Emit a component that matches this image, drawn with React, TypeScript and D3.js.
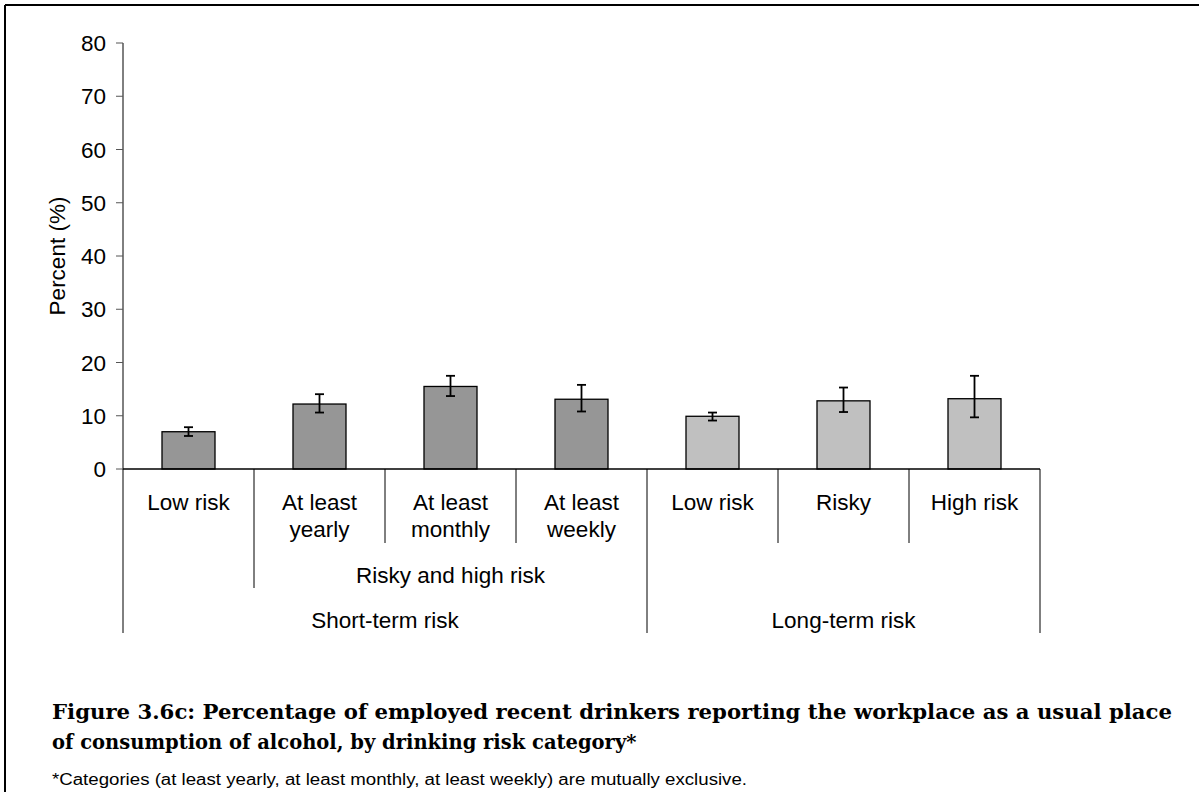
import React from "react";
import * as d3 from "d3";

const categories = ["Low risk", "At least\nyearly", "At least\nmonthly", "At least\nweekly", "Low risk", "Risky", "High risk"];
const groupOf = ["short", "short", "short", "short", "long", "long", "long"];
const values = [7.0, 12.2, 15.5, 13.1, 9.9, 12.8, 13.2];
const errLow = [6.2, 10.6, 13.7, 10.8, 9.1, 10.7, 9.7];
const errHigh = [7.85, 14.05, 17.5, 15.8, 10.6, 15.3, 17.5];
const yTicks = [0, 10, 20, 30, 40, 50, 60, 70, 80];
const subGroups = [{ label: "Risky and high risk", from: 1, to: 3 }];
const topGroups = [
  { label: "Short-term risk", from: 0, to: 3 },
  { label: "Long-term risk", from: 4, to: 6 },
];
const titleLines = [
  "Figure 3.6c: Percentage of employed recent drinkers reporting the workplace as a usual place",
  "of consumption of alcohol, by drinking risk category*",
];
const footnote = "*Categories (at least yearly, at least monthly, at least weekly) are mutually exclusive.";

const W = 1199;
const H = 792;
const left = 123;
const right = 1040;
const top = 43;
const bottom = 469;
const sans = "Arial, 'Liberation Sans', sans-serif";
const serif = "'Palatino Linotype', 'DejaVu Serif', serif";
const fs = 22.5;

export default function App() {
  const x = d3.scaleBand<number>().domain(d3.range(categories.length)).range([left, right]).padding(0);
  const y = d3.scaleLinear().domain([0, 80]).range([bottom, top]);
  const bw = x.bandwidth();
  const barW = 53;
  const fill = (i: number) => (groupOf[i] === "short" ? "#969696" : "#c0c0c0");

  const boundaryEnd = (k: number) => {
    if (k === 0 || k === categories.length || k === 4) return 633;
    if (k === 1) return 588;
    return 543;
  };
  const bx = (k: number) => (k === categories.length ? right : (x(k) as number));

  return (
    <svg width={W} height={H} style={{ position: "absolute", left: 0, top: 0, background: "#fff" }}>
      <rect x={0} y={0} width={W} height={H} fill="#fff" />
      <line x1={5} y1={5} x2={W} y2={5} stroke="#000" strokeWidth={2} />
      <line x1={5} y1={5} x2={5} y2={H} stroke="#000" strokeWidth={2} />

      <line x1={left} y1={top} x2={left} y2={bottom} stroke="#000" strokeWidth={1} />
      {yTicks.map((t) => (
        <g key={t}>
          <line x1={left - 7} x2={left} y1={y(t)} y2={y(t)} stroke="#555" strokeWidth={1} />
          <text x={106} y={y(t)} dy="0.36em" textAnchor="end" fontFamily={sans} fontSize={fs} fill="#000">
            {t}
          </text>
        </g>
      ))}
      <text
        transform={`translate(65,${(top + bottom) / 2}) rotate(-90)`}
        textAnchor="middle"
        fontFamily={sans}
        fontSize={fs}
        fill="#000"
      >
        Percent (%)
      </text>

      {values.map((v, i) => {
        const cx = (x(i) as number) + bw / 2;
        return (
          <g key={i}>
            <rect x={cx - barW / 2} y={y(v)} width={barW} height={y(0) - y(v)} fill={fill(i)} stroke="#000" strokeWidth={1.3} />
            <line x1={cx} x2={cx} y1={y(errLow[i])} y2={y(errHigh[i])} stroke="#000" strokeWidth={1.8} />
            <line x1={cx - 4.5} x2={cx + 4.5} y1={y(errLow[i])} y2={y(errLow[i])} stroke="#000" strokeWidth={1.8} />
            <line x1={cx - 4.5} x2={cx + 4.5} y1={y(errHigh[i])} y2={y(errHigh[i])} stroke="#000" strokeWidth={1.8} />
          </g>
        );
      })}

      <line x1={left} x2={right} y1={bottom} y2={bottom} stroke="#000" strokeWidth={1.3} />

      {d3.range(categories.length + 1).map((k) => (
        <line key={k} x1={bx(k)} x2={bx(k)} y1={bottom} y2={boundaryEnd(k)} stroke="#000" strokeWidth={1} />
      ))}

      {categories.map((c, i) => {
        const cx = (x(i) as number) + bw / 2;
        return (
          <text key={i} textAnchor="middle" fontFamily={sans} fontSize={fs} fill="#000">
            {c.split("\n").map((ln, j) => (
              <tspan key={j} x={cx} y={510 + j * 27}>
                {ln}
              </tspan>
            ))}
          </text>
        );
      })}

      {subGroups.map((g) => (
        <text key={g.label} x={(bx(g.from) + bx(g.to + 1)) / 2} y={583} textAnchor="middle" fontFamily={sans} fontSize={fs} fill="#000">
          {g.label}
        </text>
      ))}
      {topGroups.map((g) => (
        <text key={g.label} x={(bx(g.from) + bx(g.to + 1)) / 2} y={628} textAnchor="middle" fontFamily={sans} fontSize={fs} fill="#000">
          {g.label}
        </text>
      ))}

      {titleLines.map((t, i) => (
        <text
          key={i}
          x={52}
          y={719 + i * 30}
          fontFamily={serif}
          fontWeight="bold"
          fontSize={19.5}
          fill="#000"
          {...(i === 0 ? { textLength: 1120, lengthAdjust: "spacingAndGlyphs" } : {})}
        >
          {t}
        </text>
      ))}
      <text x={52} y={785} fontFamily={sans} fontSize={16} fill="#000" textLength={695} lengthAdjust="spacingAndGlyphs">
        {footnote}
      </text>
    </svg>
  );
}
